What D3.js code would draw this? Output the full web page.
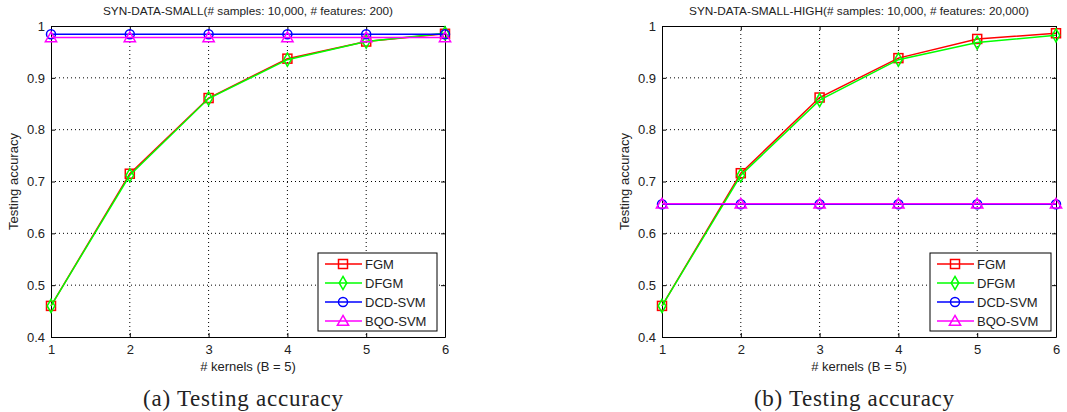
<!DOCTYPE html>
<html>
<head>
<meta charset="utf-8">
<script src="https://cdn.jsdelivr.net/npm/d3@7"></script>
<style>
  body { margin: 0; background: #fff; }
  svg text { font-family: "Liberation Sans", Arial, sans-serif; fill: #222; }
</style>
</head>
<body>
<script>
// data
const kernels = [1, 2, 3, 4, 5, 6];
const seriesNames = ['FGM', 'DFGM', 'DCD-SVM', 'BQO-SVM'];
const seriesColors = ['#ff0000', '#00ff00', '#0000ff', '#ff00ff'];
const seriesMarkers = ['square', 'diamond', 'circle', 'triangle'];

const smallFGM = [0.46, 0.715, 0.861, 0.937, 0.970, 0.985];
const smallDFGM = [0.46, 0.712, 0.860, 0.935, 0.970, 0.986];
const smallDCD = [0.984, 0.984, 0.984, 0.984, 0.984, 0.984];
const smallBQO = [0.978, 0.978, 0.978, 0.978, 0.978, 0.978];

const highFGM = [0.46, 0.716, 0.862, 0.938, 0.975, 0.986];
const highDFGM = [0.46, 0.712, 0.857, 0.935, 0.968, 0.982];
const highDCD = [0.656, 0.656, 0.656, 0.656, 0.656, 0.656];
const highBQO = [0.657, 0.657, 0.657, 0.657, 0.657, 0.657];

const yTicks = [0.4, 0.5, 0.6, 0.7, 0.8, 0.9, 1];
const titles = ['SYN-DATA-SMALL(# samples: 10,000, # features: 200)',
                'SYN-DATA-SMALL-HIGH(# samples: 10,000, # features: 20,000)'];
const captions = ['(a) Testing accuracy', '(b) Testing accuracy'];
const xLabel = '# kernels (B = 5)';
const yLabel = 'Testing accuracy';

const svg = d3.select('body').append('svg')
    .attr('width', 1067)
    .attr('height', 412);

const panels = [
  {left: 51, right: 445, series: [smallFGM, smallDFGM, smallDCD, smallBQO], title: titles[0], caption: captions[0], legendX: 318, legendW: 119},
  {left: 662, right: 1056, series: [highFGM, highDFGM, highDCD, highBQO], title: titles[1], caption: captions[1], legendX: 930, legendW: 121}
];
const plotTop = 26, plotBottom = 337;

function marker(g, type, x, y, color) {
  if (type === 'square') {
    g.append('rect').attr('x', x - 4.5).attr('y', y - 4.5).attr('width', 9).attr('height', 9)
      .attr('fill', 'none').attr('stroke', color).attr('stroke-width', 1.5);
  } else if (type === 'circle') {
    g.append('circle').attr('cx', x).attr('cy', y).attr('r', 4.5)
      .attr('fill', 'none').attr('stroke', color).attr('stroke-width', 1.5);
  } else {
    const sym = type === 'diamond' ? d3.symbolDiamond : d3.symbolTriangle;
    const size = type === 'diamond' ? 50 : 55;
    g.append('path').attr('d', d3.symbol(sym, size)())
      .attr('transform', `translate(${x},${y + (type === 'triangle' ? 1 : 0)})`)
      .attr('fill', 'none').attr('stroke', color).attr('stroke-width', 1.5);
  }
}

panels.forEach(p => {
  const x = d3.scaleLinear().domain([1, 6]).range([p.left, p.right]);
  const y = d3.scaleLinear().domain([0.4, 1]).range([plotBottom, plotTop]);
  const g = svg.append('g');

  // grid
  g.selectAll('.gx').data(kernels.slice(1, -1)).enter().append('line')
    .attr('x1', d => x(d)).attr('x2', d => x(d)).attr('y1', plotTop).attr('y2', plotBottom)
    .attr('stroke', '#000').attr('stroke-width', 1).attr('stroke-dasharray', '1,3');
  g.selectAll('.gy').data(yTicks.slice(1, -1)).enter().append('line')
    .attr('y1', d => y(d)).attr('y2', d => y(d)).attr('x1', p.left).attr('x2', p.right)
    .attr('stroke', '#000').attr('stroke-width', 1).attr('stroke-dasharray', '1,3');

  // axes with inward ticks on all sides
  const tickFmt = d => d === 1 ? '1' : d3.format('.1f')(d);
  g.append('g').attr('transform', `translate(0,${plotBottom})`)
    .call(d3.axisBottom(x).tickValues(kernels).tickFormat(d3.format('d')).tickSizeInner(-4).tickSizeOuter(0).tickPadding(8));
  g.append('g').attr('transform', `translate(${p.left},0)`)
    .call(d3.axisLeft(y).tickValues(yTicks).tickFormat(tickFmt).tickSizeInner(-4).tickSizeOuter(0).tickPadding(6));
  g.append('g').attr('transform', `translate(0,${plotTop})`)
    .call(d3.axisTop(x).tickValues(kernels).tickSizeInner(-4).tickSizeOuter(0).tickFormat(''));
  g.append('g').attr('transform', `translate(${p.right},0)`)
    .call(d3.axisRight(y).tickValues(yTicks).tickSizeInner(-4).tickSizeOuter(0).tickFormat(''));
  g.selectAll('.domain').attr('stroke', '#000');
  g.selectAll('.tick line').attr('stroke', '#000');
  g.selectAll('.tick text').style('font-family', '"Liberation Sans", Arial, sans-serif')
    .style('font-size', '13px').attr('fill', '#222');

  // series
  const line = d3.line().x((d, i) => x(kernels[i])).y(d => y(d));
  p.series.forEach((vals, si) => {
    const sg = g.append('g');
    sg.append('path').datum(vals).attr('d', line)
      .attr('fill', 'none').attr('stroke', seriesColors[si]).attr('stroke-width', 1.5);
    vals.forEach((v, i) => marker(sg, seriesMarkers[si], x(kernels[i]), y(v), seriesColors[si]));
  });

  // title and labels
  const cx = (p.left + p.right) / 2;
  g.append('text').attr('x', cx).attr('y', 15).attr('text-anchor', 'middle')
    .style('font-size', '11.8px').text(p.title);
  g.append('text').attr('x', cx).attr('y', 371).attr('text-anchor', 'middle')
    .style('font-size', '13px').text(xLabel);
  g.append('text').attr('transform', `translate(${p.left - 33},${(plotTop + plotBottom) / 2}) rotate(-90)`)
    .attr('text-anchor', 'middle').style('font-size', '13px').text(yLabel);
  g.append('text').attr('x', cx - 105).attr('y', 406)
    .attr('textLength', 200).attr('lengthAdjust', 'spacing')
    .style('font-family', '"Liberation Serif", "DejaVu Serif", serif')
    .style('font-size', '23px').text(p.caption);

  // legend
  const lx = p.legendX, ly = 253, lw = p.legendW, lh = 78;
  const lg = g.append('g');
  lg.append('rect').attr('x', lx).attr('y', ly).attr('width', lw).attr('height', lh)
    .attr('fill', '#fff').attr('stroke', '#000').attr('stroke-width', 1);
  seriesNames.forEach((name, si) => {
    const yy = ly + 11 + si * 19;
    lg.append('line').attr('x1', lx + 7).attr('x2', lx + 44).attr('y1', yy).attr('y2', yy)
      .attr('stroke', seriesColors[si]).attr('stroke-width', 1.5);
    marker(lg, seriesMarkers[si], lx + 25, yy, seriesColors[si]);
    lg.append('text').attr('x', lx + 47).attr('y', yy + 5).style('font-size', '13px').text(name);
  });
});
</script>
</body>
</html>
